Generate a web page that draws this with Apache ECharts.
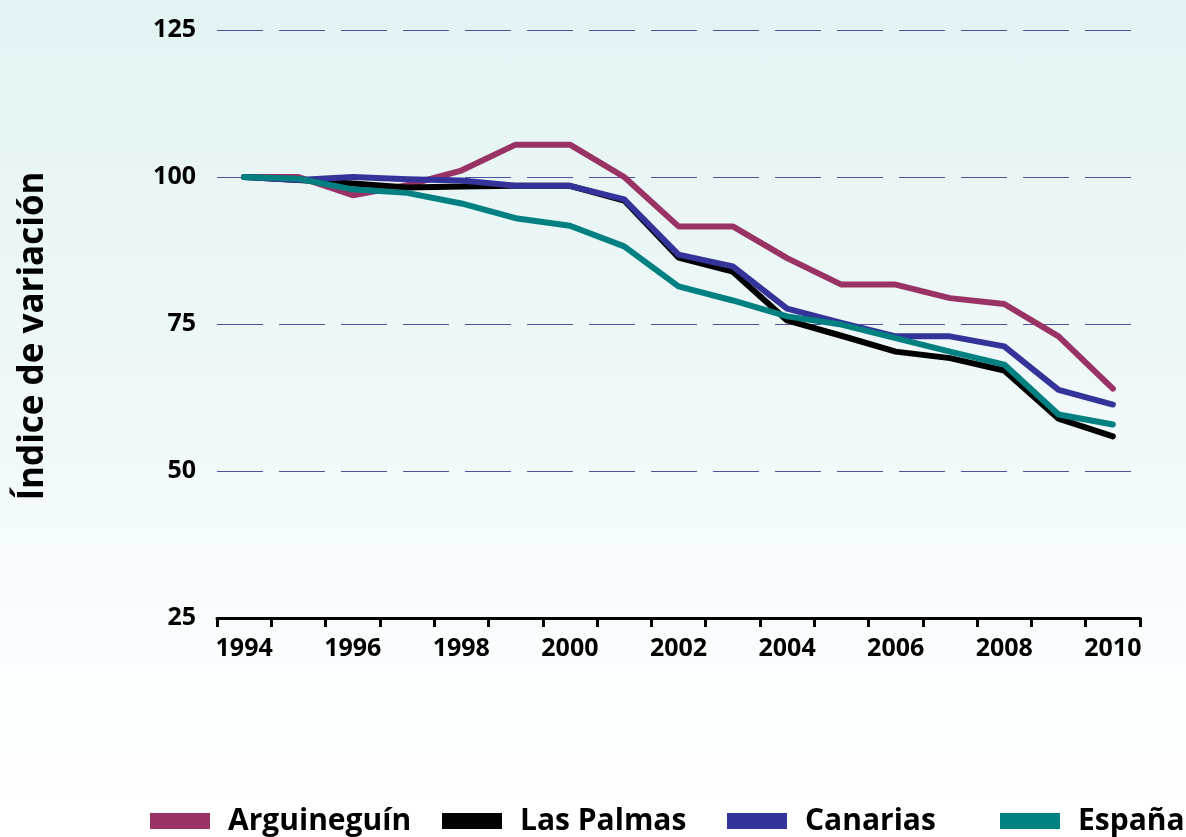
<!doctype html>
<html>
<head>
    <meta charset="UTF-8">
    <title>indice_variacion</title>
    <script src="https://cdn.jsdelivr.net/npm/echarts@6/dist/echarts.min.js"></script>
    <style>
        html, body {
            margin: 0;
            padding: 0;
        }
        body {
            background: linear-gradient(to bottom, #e3f3f3 0%, #f2f9fa 55%, #fbfdfe 80%, #ffffff 100%);
        }
        #main {
            width: 1186px;
            height: 837px;
        }
    </style>
</head>
<body>
    <div id="main"></div>

    <script>
        // data
        var years = ['1994', '1995', '1996', '1997', '1998', '1999', '2000', '2001', '2002',
                     '2003', '2004', '2005', '2006', '2007', '2008', '2009', '2010'];
        var arguineguin = [100, 100, 96.9, 98.6, 101.1, 105.5, 105.5, 100, 91.6, 91.6, 86.2, 81.7, 81.7, 79.4, 78.4, 72.9, 64];
        var lasPalmas = [100, 99.5, 98.9, 98.2, 98.4, 98.5, 98.5, 96, 86.3, 83.9, 75.6, 73, 70.3, 69.2, 67.1, 58.9, 55.9];
        var canarias = [100, 99.5, 100, 99.6, 99.4, 98.5, 98.5, 96.2, 86.8, 84.8, 77.6, 75.2, 72.9, 72.9, 71.2, 63.8, 61.3];
        var espana = [100, 99.7, 97.9, 97.3, 95.5, 93, 91.7, 88.2, 81.4, 79, 76.3, 74.9, 72.6, 70.3, 68.1, 59.6, 57.9];
        var yTicks = [25, 50, 75, 100, 125];

        var names = ['Arguineguín', 'Las Palmas', 'Canarias', 'España'];
        var colors = ['#993366', '#000000', '#333399', '#008080'];
        var values = [arguineguin, lasPalmas, canarias, espana];
        var legendLeft = [145, 437, 722, 995];

        var font = "'Century Gothic', 'Open Sans', 'DejaVu Sans', sans-serif";

        var myChart = echarts.init(document.getElementById('main'));

        var seriesList = names.map(function (n, i) {
            return {
                name: n,
                type: 'line',
                data: values[i],
                symbol: 'none',
                color: colors[i],
                lineStyle: {
                    width: 6,
                    cap: 'round',
                    join: 'round'
                }
            };
        });

        var legends = names.map(function (n, i) {
            return {
                data: [n],
                left: legendLeft[i],
                top: 801,
                itemWidth: 60,
                itemHeight: 16,
                icon: 'rect',
                textStyle: {
                    fontFamily: font,
                    fontWeight: 'bold',
                    fontSize: 30,
                    color: '#000',
                    padding: [0, 0, 0, 13]
                }
            };
        });

        var option = {
            animation: false,
            grid: {
                left: 217,
                right: 46,
                top: 30,
                bottom: 219
            },
            legend: legends,
            xAxis: {
                type: 'category',
                data: years,
                boundaryGap: true,
                axisLine: {
                    lineStyle: { color: '#000', width: 3 }
                },
                axisTick: {
                    show: true,
                    interval: 0,
                    length: 9,
                    lineStyle: { color: '#000', width: 3 }
                },
                axisLabel: {
                    interval: 1,
                    margin: 18,
                    fontFamily: font,
                    fontWeight: 'bold',
                    fontSize: 25,
                    color: '#000'
                }
            },
            yAxis: {
                type: 'value',
                min: yTicks[0],
                max: yTicks[yTicks.length - 1],
                interval: 25,
                name: 'Índice de variación',
                nameLocation: 'middle',
                nameGap: 166,
                nameTextStyle: {
                    fontFamily: font,
                    fontWeight: 'bold',
                    fontSize: 35,
                    color: '#000',
                    padding: [0, 24, 0, 0]
                },
                axisLine: { show: false },
                axisTick: { show: false },
                axisLabel: {
                    margin: 21,
                    fontFamily: font,
                    fontWeight: 'bold',
                    fontSize: 25,
                    color: '#000'
                },
                splitLine: {
                    lineStyle: {
                        color: '#5252a0',
                        width: 1.2,
                        type: [46, 16]
                    }
                }
            },
            series: seriesList
        };

        myChart.setOption(option);
    </script>
</body>
</html>
